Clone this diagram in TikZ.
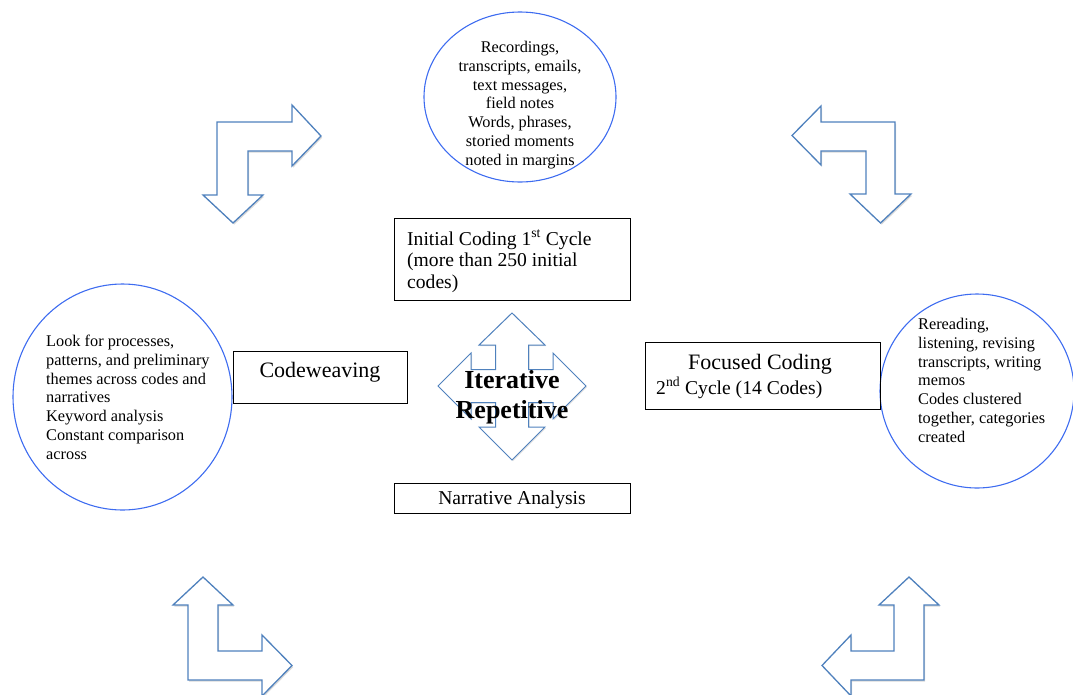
\documentclass[tikz,border=0pt]{standalone}
\usepackage{fontspec}
\setmainfont{Liberation Serif}
\usetikzlibrary{shadows,shapes.geometric}
\definecolor{circblue}{RGB}{62,108,240}
\definecolor{arrblue}{RGB}{79,129,189}
\begin{document}
\begin{tikzpicture}[x=1pt,y=-1pt,
  circ/.style={ellipse, draw=circblue, line width=1.1pt, inner sep=0pt},
  bentarrow/.style={draw=arrblue, line width=1.3pt, fill=white, line join=miter,
    drop shadow={shadow xshift=1.2pt, shadow yshift=-1.6pt, opacity=0.25, fill=black!60}},
  quadarrow/.style={draw=arrblue, line width=1pt, fill=white, line join=miter,
    drop shadow={shadow xshift=1pt, shadow yshift=-1.2pt, opacity=0.2, fill=black!60}},
  boxc/.style={draw=black, line width=0.9pt, inner sep=0pt},
  ctext/.style={font=\fontsize{16.3}{18.9}\selectfont, inner sep=0pt},
  btext/.style={font=\fontsize{19.6}{21.7}\selectfont, inner sep=0pt},
  ltext/.style={font=\fontsize{22}{25}\selectfont, inner sep=0pt},
  itext/.style={font=\fontsize{26}{30}\selectfont\bfseries, inner sep=0pt, align=center}]
\useasboundingbox (0,0) rectangle (1073,694);

% circles
\node[circ, minimum width=192pt, minimum height=170pt] (topc) at (520,97) {};
\node[circ, minimum width=219pt, minimum height=226pt] (leftc) at (122.5,397) {};
\node[circ, minimum width=194pt, minimum height=194pt] (rightc) at (977,391) {};

\node[ctext, align=center, anchor=north] (toptext) at (520,40)
  {\rule{0pt}{12pt}Recordings,\\ transcripts, emails,\\ text messages,\\ field notes\\ Words, phrases,\\ storied moments\\ noted in margins};
\node[ctext, align=left, anchor=north west] (lefttext) at (46,334)
  {\rule{0pt}{12pt}Look for processes,\\ patterns, and preliminary\\ themes across codes and\\ narratives\\ Keyword analysis\\ Constant comparison\\ across};
\node[ctext, align=left, anchor=north west] (righttext) at (918,317)
  {\rule{0pt}{12pt}Rereading,\\ listening, revising\\ transcripts, writing\\ memos\\ Codes clustered\\ together, categories\\ created};

% boxes
\node[boxc, minimum width=236pt, minimum height=82pt] (initbox) at (512,259) {};
\node[btext, align=left, anchor=north west] (inittext) at (407,227)
  {\rule{0pt}{18pt}Initial Coding 1\textsuperscript{st} Cycle\\ (more than 250 initial\\ codes)};

\node[boxc, minimum width=174pt, minimum height=52pt] (cwbox) at (320,377) {};
\node[ltext, anchor=base] (cwtext) at (320,377) {Codeweaving};

\node[boxc, minimum width=235pt, minimum height=67pt] (focbox) at (762.5,375.5) {};
\node[ltext, anchor=base] (foctext) at (760,369) {Focused Coding};
\node[btext, anchor=base west] (foctext2) at (656,394) {2\textsuperscript{nd} Cycle (14 Codes)};

\node[boxc, minimum width=236pt, minimum height=30pt] (narbox) at (512,498) {};
\node[btext, anchor=base] (nartext) at (512,504) {Narrative Analysis};

% bent arrows
\draw[bentarrow] (217,122) -- (292,122) -- (292,105) -- (321,136) -- (292,166) -- (292,151)
  -- (248,151) -- (248,195) -- (263,195) -- (233,223) -- (203,195) -- (217,195) -- cycle;
\draw[bentarrow] (895,122) -- (821,122) -- (821,106) -- (792,135.5) -- (821,165) -- (821,151)
  -- (866,151) -- (866,194) -- (850,194) -- (880.5,223) -- (911,194) -- (895,194) -- cycle;
\draw[bentarrow] (188,680) -- (188,605) -- (173,605) -- (203,577) -- (233,605) -- (218,605)
  -- (218,651) -- (262,651) -- (262,635) -- (292,665.5) -- (262,696) -- (262,680) -- cycle;
\draw[bentarrow] (924,680) -- (924,605) -- (939,605) -- (909,577) -- (879,605) -- (894,605)
  -- (894,651) -- (851,651) -- (851,635) -- (822,665.5) -- (851,696) -- (851,680) -- cycle;

% quad arrow
\draw[quadarrow, shift={(512,386)}] (0,-73) -- (33,-41) -- (16.5,-41) -- (16.5,-16.5) -- (41,-16.5)
  -- (41,-33) -- (74,0) -- (41,33) -- (41,16.5) -- (16.5,16.5) -- (16.5,41) -- (33,41) -- (0,74)
  -- (-33,41) -- (-16.5,41) -- (-16.5,16.5) -- (-41,16.5) -- (-41,33) -- (-74,0) -- (-41,-33)
  -- (-41,-16.5) -- (-16.5,-16.5) -- (-16.5,-41) -- (-33,-41) -- cycle;
\node[itext, anchor=north] (itertext) at (512,369) {\rule{0pt}{19pt}Iterative\\ Repetitive};
\end{tikzpicture}
\end{document}
